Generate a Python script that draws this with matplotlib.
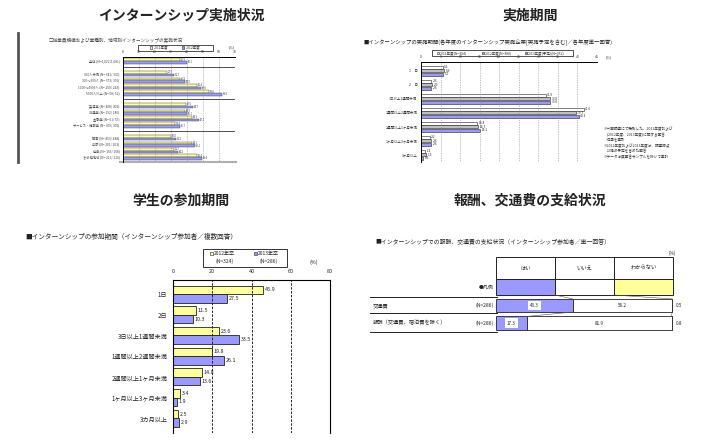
"""Four scanned-report style panels about internship surveys."""

import matplotlib
matplotlib.use("Agg")
import matplotlib.pyplot as plt
from matplotlib.patches import Rectangle
import numpy as np

plt.rcParams['font.family'] = ['Noto Sans CJK JP', 'DejaVu Sans']

W, H = 708, 441

YELLOW = "#FFFF99"
PURPLE = "#9999FF"
GRAY = "#C0C0C0"

# ---------------------------------------------------------------------------
# Data
# ---------------------------------------------------------------------------

# top-left: 従業員規模・業種・地域別の実施状況 (%)
tl_groups = [1, 4, 4, 4]
tl_labels = [
    "全体 (N=1,022/1,001)",
    "300人未満 (N= 341/ 330)", "300～999人 (N= 373/ 376)",
    "1000～4999人 (N= 250/ 243)", "5000人以上 (N= 58/ 52)",
    "製造業 (N= 408/ 402)", "流通業 (N= 192/ 186)",
    "金融業 (N= 61/ 57)", "サービス・情報業 (N= 309/ 301)",
    "関東 (N= 453/ 448)", "中部 (N= 201/ 203)",
    "近畿 (N= 155/ 158)", "その他地域 (N= 213/ 210)",
]
tl_2011 = [35.9, 27.5, 35.9, 46.4, 53.6, 39.5, 38.9, 43.3, 32.6, 30.0, 43.1, 31.7, 46.4]
tl_2012 = [40.1, 31.7, 38.9, 49.0, 62.0, 43.7, 40.1, 47.3, 35.7, 33.2, 45.2, 34.2, 49.4]
tl_series = ["2011年度", "2012年度"]

# top-right: 実施期間 (%)
tr_cats = ["1　日", "2　日", "3日以上1週間未満", "1週間以上2週間未満",
           "2週間以上1ヶ月未満", "1ヶ月以上3ヶ月未満", "3ヶ月以上"]
tr_2011 = [5.6, 2.6, 31.9, 41.6, 14.4, 2.2, 1.1]
tr_2012 = [5.9, 2.9, 33.0, 39.7, 14.7, 2.6, 1.3]
tr_2013 = [5.7, 2.6, 33.0, 40.3, 15.1, 2.6, 0.6]
tr_series = ["2011年度(N=304)", "2012年度(N=380)", "2013年度(予定)(N=352)"]
tr_notes = [
    "※今回調査にて聴取した、2011年度および",
    "　(2012年度、2013年度)に関する回答",
    "　結果を集計",
    "※2012年度および2013年度は、調査時点",
    "　以降の予定を含めた回答",
    "※データは無回答サンプルを除いて集計",
]

# bottom-left: 学生の参加期間 (%)
bl_cats = ["1日", "2日", "3日以上1週間未満", "1週間以上2週間未満",
           "2週間以上1ヶ月未満", "1ヶ月以上3ヶ月未満", "3カ月以上"]
bl_2012 = [45.9, 11.5, 23.6, 19.8, 14.8, 3.4, 2.5]
bl_2013 = [27.5, 10.3, 33.5, 26.1, 13.6, 1.9, 2.9]
bl_series = ["2012年卒", "2013年卒"]
bl_n = ["(N=324)", "(N=286)"]

# bottom-right: 報酬・交通費の支給状況 (%)
br_rows = ["交通費", "報酬（交通費、宿泊費を除く）"]
br_n = ["(N=286)", "(N=286)"]
br_heads = ["はい", "いいえ", "わからない"]
br_yes = [43.3, 17.3]
br_no = [56.2, 81.9]
br_dk = [0.5, 0.8]


# ---------------------------------------------------------------------------
# Helpers
# ---------------------------------------------------------------------------

fig = plt.figure(figsize=(W / 100, H / 100), dpi=100)
fig.patch.set_facecolor("white")

cv = fig.add_axes([0, 0, 1, 1])
cv.set_xlim(0, W)
cv.set_ylim(H, 0)
cv.axis("off")


def pax(x0, y0, x1, y1):
    ax = fig.add_axes([x0 / W, 1 - y1 / H, (x1 - x0) / W, (y1 - y0) / H])
    ax.patch.set_alpha(0)
    return ax


def swatch(x, y, size, color, ec="#222222"):
    cv.add_patch(Rectangle((x, y - size / 2), size, size, fc=color, ec=ec, lw=0.4))


# panel headings
for x, y, s in [(181, 16, "インターンシップ実施状況"), (530, 16, "実施期間"),
                (181, 201, "学生の参加期間"), (530, 201, "報酬、交通費の支給状況")]:
    cv.text(x, y, s, ha="center", va="center", fontsize=10, fontweight="bold", color="#222222")


# ---------------------------------------------------------------------------
# Top-left: 実施状況
# ---------------------------------------------------------------------------

cv.plot([18, 18], [33, 162], color="#555555", lw=2)
cv.plot([120, 236], [161.5, 161.5], color="#b0b0b0", lw=1.5)
cv.text(49, 40, "□従業員規模および業種別、地域別インターンシップの実施状況",
        fontsize=3.3, va="center", color="#444444")
cv.add_patch(Rectangle((138, 44.5), 75, 6, fill=False, lw=0.6, ec="#333333"))
swatch(150, 47.5, 2.4, YELLOW)
cv.text(153.5, 47.5, tl_series[0], fontsize=2.5, va="center", color="#333333")
swatch(182, 47.5, 2.4, PURPLE)
cv.text(185.5, 47.5, tl_series[1], fontsize=2.5, va="center", color="#333333")
cv.text(229, 47, "(%)", fontsize=2.6, va="center", color="#333333")

pos = []
p = 0
for g in tl_groups:
    for _ in range(g):
        pos.append(p)
        p += 1
    p += 1
pos = np.array(pos)

ax = pax(123, 57, 235, 162)
ax.set_xlim(0, 70)
ax.set_ylim(15.78, -0.625)
for gx in range(10, 70, 10):
    ax.axvline(gx, color="#888888", ls=(0, (1, 1.5)), lw=0.5)
for sy in [1, 6, 11]:
    ax.axhline(sy, color="#333333", lw=0.6)
ax.barh(pos - 0.21, tl_2011, height=0.42, color=YELLOW, edgecolor="#333333", lw=0.3)
ax.barh(pos + 0.21, tl_2012, height=0.42, color=PURPLE, edgecolor="#333333", lw=0.3)
for y, a, b in zip(pos, tl_2011, tl_2012):
    ax.text(a + 0.6, y - 0.21, f"{a:.1f}", fontsize=1.8, va="center", color="#333333")
    ax.text(b + 0.6, y + 0.21, f"{b:.1f}", fontsize=1.8, va="center", color="#333333")
ax.set_yticks(pos)
ax.set_yticklabels(tl_labels, fontsize=2.3, color="#444444")
ax.xaxis.tick_top()
ax.set_xticks(range(0, 71, 10))
ax.set_xticklabels([str(v) for v in range(0, 71, 10)], fontsize=2.5, color="#333333")
ax.tick_params(length=0, pad=2.5)
for side in ["right", "bottom"]:
    ax.spines[side].set_visible(False)
for side in ["left", "top"]:
    ax.spines[side].set_linewidth(0.7)


# ---------------------------------------------------------------------------
# Top-right: 実施期間
# ---------------------------------------------------------------------------

cv.text(363, 43, "■インターンシップの実施期間(各年度のインターンシップ実施企業[実施予定を含む]／各年度単一回答)",
        fontsize=3.85, va="center", color="#222222")
cv.add_patch(Rectangle((432, 50), 141, 6, fill=False, lw=0.6, ec="#333333"))
for x, col, lab in zip([437, 482, 525], ["white", GRAY, PURPLE], tr_series):
    swatch(x, 53, 2.4, col)
    cv.text(x + 3.2, 53, lab, fontsize=2.5, va="center", color="#333333")
cv.text(606, 57, "(%)", fontsize=2.6, va="center", color="#333333")

ypos = np.arange(len(tr_cats))
ax = pax(421, 62, 597, 162)
ax.set_xlim(0, 45)
ax.set_ylim(6.52, -0.62)
for gx in range(5, 46, 5):
    ax.axvline(gx, color="#888888", ls=(0, (1, 1.5)), lw=0.5)
for off, vals, col in zip([-0.25, 0, 0.25], [tr_2011, tr_2012, tr_2013], ["white", GRAY, PURPLE]):
    ax.barh(ypos + off, vals, height=0.24, color=col, edgecolor="#222222", lw=0.4)
    for y, v in zip(ypos, vals):
        ax.text(v + 0.4, y + off, f"{v:.1f}", fontsize=2.3, va="center", color="#222222")
ax.set_yticks(ypos)
ax.set_yticklabels(tr_cats, fontsize=2.5, color="#333333")
ax.xaxis.tick_top()
ax.set_xticks(range(0, 46, 5))
ax.set_xticklabels([str(v) for v in range(0, 46, 5)], fontsize=2.5, color="#333333")
ax.tick_params(length=0, pad=2.5)
for side in ["right", "bottom"]:
    ax.spines[side].set_visible(False)
for side in ["left", "top"]:
    ax.spines[side].set_linewidth(0.7)

for i, line in enumerate(tr_notes):
    cv.text(603, 129 + i * 5.6, line, fontsize=2.6, va="center", color="#333333")


# ---------------------------------------------------------------------------
# Bottom-left: 学生の参加期間
# ---------------------------------------------------------------------------

cv.text(25, 237, "■インターンシップの参加期間（インターンシップ参加者／複数回答）",
        fontsize=4.8, va="center", color="#222222")
cv.add_patch(Rectangle((203, 249), 84, 18, fill=False, lw=0.7, ec="#333333"))
for x, col, lab, n in zip([210, 254], [YELLOW, PURPLE], bl_series, bl_n):
    swatch(x, 253.5, 3.2, col)
    cv.text(x + 4, 253.5, lab, fontsize=3.6, va="center", color="#222222")
    cv.text(x + 6, 261.5, n, fontsize=3.6, va="center", color="#222222")
cv.text(310, 262, "(%)", fontsize=3.8, va="center", color="#222222")

ypos = np.arange(len(bl_cats))
ax = pax(173, 280, 330, 433)
ax.set_xlim(0, 80)
ax.set_ylim(6.71, -0.68)
for gx in [20, 40, 60]:
    ax.axvline(gx, color="#222222", ls=(0, (2.5, 1.5)), lw=0.7)
ax.barh(ypos - 0.205, bl_2012, height=0.41, color=YELLOW, edgecolor="#222222", lw=0.6)
ax.barh(ypos + 0.205, bl_2013, height=0.41, color=PURPLE, edgecolor="#222222", lw=0.6)
for y, a, b in zip(ypos, bl_2012, bl_2013):
    ax.text(a + 0.9, y - 0.205, f"{a:.1f}", fontsize=3.9, va="center", color="#222222")
    ax.text(b + 0.9, y + 0.205, f"{b:.1f}", fontsize=3.9, va="center", color="#222222")
ax.set_yticks(ypos)
ax.set_yticklabels(bl_cats, fontsize=4.4, color="#222222")
ax.xaxis.tick_top()
ax.set_xticks(range(0, 81, 20))
ax.set_xticklabels([str(v) for v in range(0, 81, 20)], fontsize=3.9, color="#222222")
ax.tick_params(length=0, pad=4)
ax.tick_params(axis="y", pad=4)
ax.spines["bottom"].set_visible(False)
for side in ["left", "top", "right"]:
    ax.spines[side].set_linewidth(0.8)


# ---------------------------------------------------------------------------
# Bottom-right: 報酬、交通費の支給状況
# ---------------------------------------------------------------------------

cv.text(375, 242, "■インターンシップでの報酬、交通費の支給状況（インターンシップ参加者／単一回答）",
        fontsize=4.2, va="center", color="#222222")
cv.text(669, 253, "(%)", fontsize=3.4, va="center", color="#222222")
for ly in [297, 313, 332]:
    cv.plot([370, 497], [ly, ly], color="#222222", lw=0.7)
for i, (lab, n) in enumerate(zip(br_rows, br_n)):
    yc = 305.5 + 17.5 * i
    cv.text(373, yc, lab, fontsize=3.8, va="center", color="#222222")
    cv.text(494, yc, n, fontsize=3.6, va="center", ha="right", color="#222222")

rows = np.arange(len(br_rows))
yes = np.array(br_yes)
no = np.array(br_no)
dk = np.array(br_dk)
ax = pax(496, 297, 673, 332)
ax.set_xlim(0, 100)
ax.set_ylim(1.514, -0.486)
ax.axis("off")

# header + 凡例 row
cw = 100 / 3
for j, (head, col) in enumerate(zip(br_heads, [PURPLE, "white", YELLOW])):
    ax.add_patch(Rectangle((j * cw, -2.77), cw, 1.256, fc="white", ec="#222222", lw=0.7, clip_on=False))
    ax.add_patch(Rectangle((j * cw, -1.514), cw, 0.914, fc=col, ec="#222222", lw=0.7, clip_on=False))
    ax.text(j * cw + cw / 2, -2.14, head, fontsize=3.8, ha="center", va="center", color="#222222")
ax.text(-1.2, -1.06, "●凡例", fontsize=3.6, ha="right", va="center", color="#222222")

ax.barh(rows, yes, height=0.75, color=PURPLE, edgecolor="#222222", lw=0.6)
ax.barh(rows, no, left=yes, height=0.75, color="white", edgecolor="#222222", lw=0.6)
ax.barh(rows, dk, left=yes + no, height=0.75, color=YELLOW, edgecolor="#222222", lw=0.6)

# connector lines between rows
prev_x = [cw, 2 * cw]
prev_y = -0.6
for i in rows:
    cur = [yes[i], yes[i] + no[i]]
    for px, cx in zip(prev_x, cur):
        ax.plot([px, cx], [prev_y, i - 0.375], color="#555555", lw=0.4, clip_on=False)
    prev_x = cur
    prev_y = i + 0.375

for i in rows:
    ax.text(yes[i] / 2, i, f"{yes[i]:.1f}", fontsize=3.3, ha="center", va="center", color="#222222",
            bbox=dict(boxstyle="square,pad=0.5", fc="white", ec="none"))
    ax.text(yes[i] + no[i] / 2, i, f"{no[i]:.1f}", fontsize=3.3, ha="center", va="center", color="#222222")
    ax.text(101.8, i, f"{dk[i]:.1f}", fontsize=3.3, ha="left", va="center", color="#222222", clip_on=False)

fig.savefig("out.png", dpi=100)
